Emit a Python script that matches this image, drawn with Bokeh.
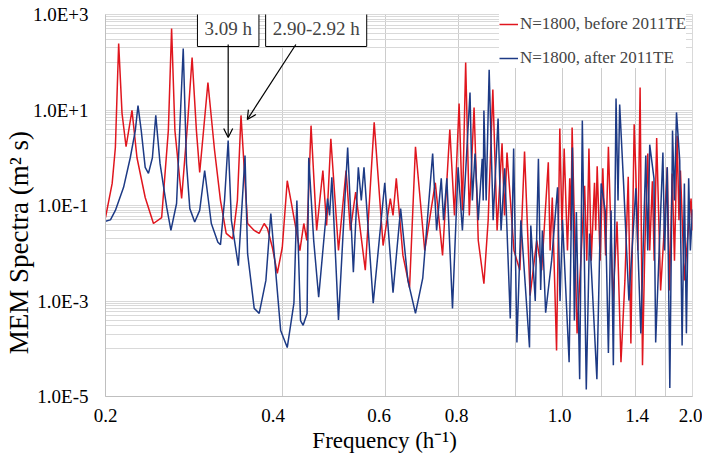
import math
from bokeh.plotting import figure
from bokeh.models import (Range1d, FixedTicker, CustomJSTickFormatter, Legend, LegendItem,
                          Label, Arrow, OpenHead)
from bokeh.embed import file_html
from bokeh.resources import INLINE

# ---------------- data ----------------
red_freq = [0.2000, 0.2053, 0.2079, 0.2106, 0.2134, 0.2168, 0.2219, 0.2263, 0.2337, 0.2414,
            0.2493, 0.2559, 0.2592, 0.2626, 0.2696, 0.2762, 0.2809, 0.2857, 0.2894, 0.2989,
            0.3068, 0.3140, 0.3211, 0.3294, 0.3355, 0.3403, 0.3492, 0.3584, 0.3655, 0.3727,
            0.3775, 0.3849, 0.3924, 0.4001, 0.4080, 0.4139, 0.4287, 0.4354, 0.4405, 0.4479,
            0.4579, 0.4692, 0.4761, 0.4841, 0.4988, 0.5139, 0.5226, 0.5336, 0.5541, 0.5738,
            0.5942, 0.6113, 0.6178, 0.6258, 0.6423, 0.6592, 0.6747, 0.6996, 0.7293, 0.7503,
            0.7720, 0.7862, 0.8006, 0.8110, 0.8215, 0.8333, 0.8490, 0.8631, 0.8824, 0.8973,
            0.9139, 0.9293, 0.9475, 0.9568, 0.9661, 0.9928, 1.0161, 1.0349, 1.0577, 1.0856,
            1.1069, 1.1360, 1.1441, 1.1539, 1.1734, 1.1885, 1.1988, 1.2090, 1.2247, 1.2356,
            1.2414, 1.2472, 1.2717, 1.2932, 1.3099, 1.3211, 1.3323, 1.3444, 1.3617, 1.3681,
            1.3761, 1.3922, 1.4069, 1.4223, 1.4380, 1.4644, 1.4875, 1.5107, 1.5343, 1.5543,
            1.5706, 1.5909, 1.6015, 1.6140, 1.6284, 1.6437, 1.6584, 1.6780, 1.6910, 1.7088,
            1.7209, 1.7378, 1.7649, 1.7855, 1.8115, 1.8277, 1.8470, 1.8635, 1.8832, 1.8965,
            1.9076, 1.9374, 1.9603, 1.9887, 2.0000]
red_spec = [0.056, 0.29, 1.64, 247, 8.5, 1.7, 9.8, 1.0, 0.147, 0.042,
            0.056, 3.7, 509, 3.7, 0.14, 6.0, 126, 3.7, 0.49, 37.7,
            1.42, 0.127, 0.026, 0.020, 0.127, 7.7, 0.042, 0.030, 0.026, 0.042,
            0.033, 0.0132, 0.0038, 0.0132, 0.33, 0.127, 0.0114, 0.042, 0.0185, 4.7,
            0.030, 0.54, 0.038, 2.5, 0.0114, 0.54, 0.030, 0.19, 0.0044, 5.5,
            0.0145, 0.14, 0.062, 0.37, 0.0090, 0.0019, 1.7, 0.0114, 0.30, 0.0090,
            3.9, 0.062, 13.7, 0.079, 99, 0.062, 11.3, 0.0185, 0.0023, 0.049,
            26.9, 0.030, 2.0, 0.062, 1.29, 0.0114, 0.0044, 1.35, 0.0013, 0.0185,
            0.0044, 0.80, 0.0114, 0.147, 9.2e-5, 4.1, 0.030, 1.56, 0.0114, 0.37,
            0.030, 4.3, 2.1e-4, 0.0114, 0.26, 0.0070, 1.56, 0.0070, 0.30, 0.030,
            0.66, 0.0070, 0.60, 0.0090, 1.7, 0.0010, 0.046, 5.2e-5, 0.0027, 0.40,
            1.29e-4, 5.0, 0.47, 0.0114, 29.6, 4.5e-5, 0.0114, 1.23, 0.0114, 0.32,
            0.0070, 2.6, 0.00166, 0.0185, 0.63, 0.00166, 0.47, 0.0070, 2.9, 0.049,
            0.54, 0.0027, 0.0185, 0.14, 0.030]

blue_freq = [0.2000, 0.2039, 0.2079, 0.2147, 0.2204, 0.2248, 0.2272, 0.2301, 0.2337, 0.2367,
             0.2404, 0.2436, 0.2477, 0.2543, 0.2585, 0.2643, 0.2713, 0.2748, 0.2784, 0.2838,
             0.2894, 0.2951, 0.3029, 0.3108, 0.3140, 0.3190, 0.3236, 0.3277, 0.3368, 0.3457,
             0.3492, 0.3584, 0.3655, 0.3752, 0.3825, 0.3976, 0.4080, 0.4188, 0.4237, 0.4298,
             0.4342, 0.4410, 0.4439, 0.4526, 0.4615, 0.4779, 0.4817, 0.4860, 0.4988, 0.5171,
             0.5288, 0.5392, 0.5455, 0.5513, 0.5716, 0.5981, 0.6178, 0.6365, 0.6549, 0.6747,
             0.6942, 0.7217, 0.7330, 0.7465, 0.7532, 0.7630, 0.7801, 0.7975, 0.8110, 0.8356,
             0.8434, 0.8523, 0.8631, 0.8766, 0.8800, 0.8824, 0.8903, 0.9008, 0.9150, 0.9329,
             0.9438, 0.9575, 0.9786, 0.9916, 1.0044, 1.0201, 1.0552, 1.0606, 1.0793, 1.0928,
             1.1025, 1.1099, 1.1242, 1.1508, 1.1780, 1.1895, 1.2011, 1.2327, 1.2487, 1.2583,
             1.2683, 1.2847, 1.2982, 1.3185, 1.3355, 1.3745, 1.3977, 1.4212, 1.4380, 1.4531,
             1.4662, 1.4817, 1.4933, 1.5030, 1.5266, 1.5584, 1.6015, 1.6329, 1.6650, 1.6780,
             1.6910, 1.7195, 1.7310, 1.7808, 1.7924, 1.8115, 1.8298, 1.8492, 1.8635, 1.8782,
             1.9023, 1.9202, 1.9374, 1.9527, 1.9702, 1.9833, 2.0000]
blue_spec = [0.047, 0.050, 0.079, 0.24, 1.0, 3.7, 12.4, 3.7, 0.63, 0.47,
             1.0, 7.7, 0.76, 0.091, 0.030, 0.11, 194, 0.76, 0.086, 0.045,
             0.079, 0.54, 0.042, 0.017, 0.0152, 0.127, 2.3, 0.049, 0.0055, 1.11,
             0.0099, 7.0e-4, 5.5e-4, 0.0027, 0.068, 2.4e-4, 1.06e-4, 9.0e-4, 0.127, 3.9e-4,
             3.1e-4, 5.5e-4, 1.0, 0.0185, 0.0012, 0.14, 0.062, 0.39, 4.0e-4, 1.64,
             0.0040, 0.63, 0.127, 0.63, 9.0e-4, 0.30, 0.0015, 0.086, 0.0027, 5.5e-4,
             0.0030, 1.23, 0.030, 0.37, 0.049, 0.37, 7.0e-4, 0.63, 0.030, 23.2,
             0.127, 1.23, 0.049, 0.95, 0.127, 9.8, 0.127, 70, 0.049, 6.6,
             0.030, 0.60, 4.3e-4, 1.56, 1.35e-4, 0.049, 1.06e-4, 0.038, 0.0010, 0.95,
             0.0017, 0.030, 5.7e-4, 0.0070, 0.24, 0.0010, 0.050, 5.2e-5, 1.64, 3.9e-4,
             0.073, 2.3e-5, 6.0, 1.4e-5, 0.026, 2.3e-5, 0.29, 0.073, 8.2e-5, 0.079,
             4.5e-5, 17.4, 0.127, 13.0, 0.27, 0.00102, 0.23, 2.1e-4, 1.11, 0.0114,
             1.88, 0.37, 1.35e-4, 1.29, 0.0114, 0.63, 1.5e-5, 3.7, 0.127, 8.9,
             0.87, 1.17e-4, 0.29, 2.1e-4, 0.37, 0.0114, 0.083]

series_names = ["N=1800, before 2011TE", "N=1800, after 2011TE"]

y_major = [1e-5, 1e-3, 1e-1, 1e1, 1e3]
y_labels = ["1.0E-5", "1.0E-3", "1.0E-1", "1.0E+1", "1.0E+3"]
y_minor = [n * 1e-4 for n in range(1, 10)] + [n * 1e-2 for n in range(1, 10)] + \
          [n * 1e0 for n in range(1, 10)] + [n * 1e2 for n in range(1, 10)]
# x labels as they sit in the picture (text boxes), and vertical grid lines
x_label_pos = [0.2, 0.386, 0.585, 0.793, 1.188, 1.61, 2.0]
x_labels = ["0.2", "0.4", "0.6", "0.8", "1.0", "1.4", "2.0"]
x_grid = [0.4, 0.6, 0.8, 1.0, 1.2, 1.4, 1.6, 1.8, 2.0]

periods_marked = [3.09]
FONT = "Liberation Serif"
RED = "#e0161e"
BLUE = "#1d3a85"
NB = "\u00a0"

p = figure(width=702, height=458, x_axis_type="log", y_axis_type="log",
           x_range=Range1d(0.2, 2.0), y_range=Range1d(1e-5, 1e3),
           output_backend="svg", toolbar_location=None,
           min_border_left=100, min_border_right=10, min_border_top=14, min_border_bottom=62)
p.outline_line_color = "#d9d9d9"
p.background_fill_color = "white"

# grids
p.ygrid.ticker = FixedTicker(ticks=y_major, minor_ticks=y_minor)
p.ygrid.grid_line_color = "#d9d9d9"
p.ygrid.minor_grid_line_color = "#d9d9d9"
p.xgrid.ticker = FixedTicker(ticks=x_grid)
p.xgrid.grid_line_color = "#cccccc"

# axes
fmt_code = """
let best = 0, bd = Infinity;
for (let i = 0; i < pos.length; i++) {
  const d = Math.abs(Math.log(tick) - Math.log(pos[i]));
  if (d < bd) { bd = d; best = i; }
}
return labels[best];
"""
p.xaxis.ticker = FixedTicker(ticks=x_label_pos)
p.xaxis.formatter = CustomJSTickFormatter(args=dict(pos=x_label_pos, labels=x_labels), code=fmt_code)
p.yaxis.ticker = FixedTicker(ticks=y_major)
p.yaxis.formatter = CustomJSTickFormatter(args=dict(pos=y_major, labels=y_labels), code=fmt_code)

p.axis.major_tick_line_color = None
p.axis.minor_tick_line_color = None
p.axis.major_tick_out = 0
p.axis.major_tick_in = 0
p.axis.minor_tick_out = 0
p.axis.minor_tick_in = 0
p.axis.major_label_text_font = FONT
p.axis.major_label_text_font_size = "19px"
p.axis.major_label_text_color = "black"
p.axis.axis_line_color = "#bfbfbf"
p.axis.axis_label_text_font = FONT
p.axis.axis_label_text_font_style = "normal"
p.axis.axis_label_text_color = "black"

p.xaxis.major_label_standoff = 12
p.xaxis.axis_label = "Frequency (h\u207b\u00b9)" + NB * 5
p.xaxis.axis_label_text_font_size = "23px"
p.xaxis.axis_label_standoff = 3

p.yaxis.major_label_standoff = 17
p.yaxis.axis_label = "MEM Spectra (m\u00b2 s)" + NB * 11
p.yaxis.axis_label_text_font_size = "27px"
p.yaxis.axis_label_standoff = -4

# series
r1 = p.line(red_freq, red_spec, line_color=RED, line_width=1.5)
r2 = p.line(blue_freq, blue_spec, line_color=BLUE, line_width=1.5)

legend = Legend(items=[LegendItem(label=series_names[0], renderers=[r1]),
                       LegendItem(label=series_names[1], renderers=[r2])],
                location=(394, 328), label_text_font=FONT, label_text_font_size="17px",
                glyph_width=19, glyph_height=20, label_height=20, label_standoff=2,
                spacing=14, padding=4, margin=0, border_line_color=None,
                background_fill_color="white", background_fill_alpha=1.0)
p.add_layout(legend)

# annotation boxes and arrows
p.add_layout(Label(x=1 / periods_marked[0], y=497, text="3.09 h", text_font=FONT,
                   text_font_size="19px", text_align="center", text_baseline="middle",
                   border_line_color="black", border_line_width=1,
                   background_fill_color="white", padding=7))
p.add_layout(Label(x=0.457, y=497, text="2.90-2.92 h", text_font=FONT,
                   text_font_size="19px", text_align="center", text_baseline="middle",
                   border_line_color="black", border_line_width=1,
                   background_fill_color="white", padding=7))
p.add_layout(Arrow(end=OpenHead(size=9, line_width=1.2), x_start=1 / periods_marked[0],
                   y_start=235, x_end=1 / periods_marked[0], y_end=2.65,
                   line_width=1.2, line_color="black"))
p.add_layout(Arrow(end=OpenHead(size=9, line_width=1.2), x_start=0.422, y_start=235,
                   x_end=0.3488, y_end=6.3, line_width=1.2, line_color="black"))

open("out.html", "w").write(file_html(p, INLINE))
